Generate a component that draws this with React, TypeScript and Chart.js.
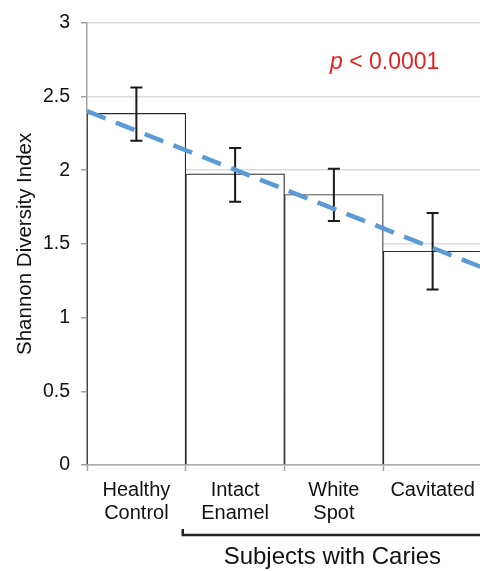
import React, { useEffect, useRef } from 'react';
import { Chart, registerables } from 'chart.js';
Chart.register(...registerables);

const categories = [['Healthy', 'Control'], ['Intact', 'Enamel'], ['White', 'Spot'], ['Cavitated']];
const meanValues = [2.385, 1.975, 1.835, 1.45];
const errorHigh = [2.56, 2.15, 2.01, 1.71];
const errorLow = [2.2, 1.785, 1.655, 1.19];
const trendX = [-0.5, 3.5];
const trendY = [2.4, 1.34];
const yTicks = [0, 0.5, 1, 1.5, 2, 2.5, 3];
const yTitle = 'Shannon Diversity Index';
const groupLabel = 'Subjects with Caries';
const groupStartIndex = 1;
const pLetter = 'p';
const pRest = ' < 0.0001';

const FONT = "'Liberation Sans', Arial, Helvetica, sans-serif";
const AXIS_GRAY = '#a3a3a3';
const GRID_GRAY = '#dcdcdc';

const annotations = {
  id: 'annotations',
  afterDatasetDraw(chart: any, args: any) {
    if (args.index !== 0) return;
    const ctx = chart.ctx;
    const x = chart.scales.x;
    const y = chart.scales.y;
    ctx.save();
    ctx.strokeStyle = '#1a1a1a';
    ctx.lineWidth = 2;
    meanValues.forEach((_, i) => {
      const px = x.getPixelForValue(i);
      const top = y.getPixelForValue(errorHigh[i]);
      const bot = y.getPixelForValue(errorLow[i]);
      ctx.beginPath();
      ctx.moveTo(px, top);
      ctx.lineTo(px, bot);
      ctx.moveTo(px - 6, top);
      ctx.lineTo(px + 6, top);
      ctx.moveTo(px - 6, bot);
      ctx.lineTo(px + 6, bot);
      ctx.stroke();
    });
    ctx.restore();
  },
  afterDraw(chart: any) {
    const ctx = chart.ctx;
    const x = chart.scales.x;
    const area = chart.chartArea;
    // bracket
    const left = (x.getPixelForValue(groupStartIndex - 1) + x.getPixelForValue(groupStartIndex)) / 2 - 3;
    const right = area.right + 20;
    const by = area.bottom + 70;
    ctx.save();
    ctx.strokeStyle = '#222';
    ctx.lineWidth = 2.5;
    ctx.beginPath();
    ctx.moveTo(left, by - 6);
    ctx.lineTo(left, by);
    ctx.lineTo(right, by);
    ctx.stroke();
    ctx.fillStyle = '#111';
    ctx.font = `24px ${FONT}`;
    ctx.textAlign = 'center';
    ctx.textBaseline = 'alphabetic';
    ctx.fillText(groupLabel, (left + area.right) / 2, area.bottom + 99);
    // p value
    ctx.fillStyle = '#e42320';
    ctx.textAlign = 'left';
    let px = area.left + 243;
    const py = area.top + 46;
    ctx.font = `italic 23px ${FONT}`;
    ctx.fillText(pLetter, px, py);
    px += ctx.measureText(pLetter).width;
    ctx.font = `23px ${FONT}`;
    ctx.fillText(pRest, px, py);
    ctx.restore();
  },
};

export default function App() {
  const ref = useRef<HTMLCanvasElement | null>(null);
  useEffect(() => {
    if (!ref.current) return;
    const chart = new Chart(ref.current, {
      type: 'bar',
      data: {
        labels: categories as any,
        datasets: [
          {
            type: 'bar',
            data: meanValues,
            backgroundColor: '#ffffff',
            borderColor: '#2a2a2a',
            borderWidth: 1.2,
            borderSkipped: 'bottom',
            barPercentage: 1,
            categoryPercentage: 1,
            grouped: false,
            order: 2,
          } as any,
          {
            type: 'line',
            data: trendX.map((v, i) => ({ x: v, y: trendY[i] })),
            xAxisID: 'xTrend',
            borderColor: '#5b9bd5',
            borderWidth: 4.5,
            borderDash: [20, 11],
            pointRadius: 0,
            fill: false,
            order: 1,
          } as any,
        ],
      },
      options: {
        animation: false,
        responsive: false,
        layout: { padding: { top: 15, right: 6, left: 0, bottom: 0 } },
        plugins: { legend: { display: false }, tooltip: { enabled: false } },
        scales: {
          x: {
            type: 'category',
            offset: true,
            grid: {
              offset: true,
              drawOnChartArea: false,
              drawTicks: true,
              tickLength: 6,
              tickColor: AXIS_GRAY,
              tickWidth: 1.5,
            },
            border: { display: true, color: AXIS_GRAY, width: 1.5 },
            ticks: {
              color: '#111',
              padding: 8,
              maxRotation: 0,
              font: { family: FONT, size: 20, lineHeight: 1.14 },
            },
            afterFit: (s: any) => {
              s.height = 106;
            },
          },
          xTrend: {
            type: 'linear',
            display: false,
            offset: false,
            min: trendX[0],
            max: trendX[1],
          },
          y: {
            min: 0,
            max: 3,
            afterBuildTicks: (s: any) => {
              s.ticks = yTicks.map((v) => ({ value: v }));
            },
            grid: {
              color: GRID_GRAY,
              lineWidth: 1.5,
              tickLength: 6,
              tickColor: AXIS_GRAY,
              tickWidth: 1.5,
            },
            border: { display: true, color: AXIS_GRAY, width: 1.5 },
            ticks: {
              color: '#111',
              padding: 11,
              font: { family: FONT, size: 19.5 },
              callback: (v: any) => String(v),
            },
            title: {
              display: true,
              text: yTitle,
              color: '#111',
              padding: { top: 13, bottom: 0 },
              font: { family: FONT, size: 20.5 },
            },
            afterFit: (s: any) => {
              s.width = 87;
            },
          },
        },
      },
      plugins: [annotations],
    } as any);
    return () => chart.destroy();
  }, []);
  return (
    <div style={{ position: 'absolute', left: 0, top: 0, width: 480, height: 571, overflow: 'hidden', background: '#fff' }}>
      <canvas ref={ref} width={488} height={571} style={{ display: 'block', width: 488, height: 571 }} />
    </div>
  );
}
